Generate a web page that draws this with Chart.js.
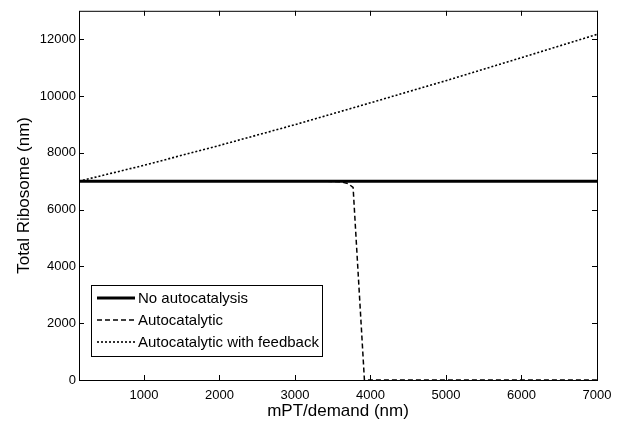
<!DOCTYPE html>
<html lang="en">
  <head>
    <meta charset="UTF-8" />
    <title>Total Ribosome vs mPT/demand</title>
    <script src="https://cdn.jsdelivr.net/npm/chart.js"></script>
    <style>
      body { margin: 0; background: #fff; }
      #wrap { width: 626px; height: 422px; }
    </style>
  </head>
  <body>
    <div id="wrap"><canvas id="myChart" width="626" height="422"></canvas></div>
    <script>
      // data
      var seriesNames = ["No autocatalysis", "Autocatalytic", "Autocatalytic with feedback"];
      var noAutoX = [140, 7000];
      var noAutoY = [7000, 7000];
      var autoX = [140, 3400, 3600, 3700, 3770, 3920, 7000];
      var autoY = [7000, 7000, 6980, 6920, 6780, 0, 0];
      var feedbackX = [140, 1000, 2000, 3000, 4000, 5000, 6000, 7000];
      var feedbackY = [7000, 7560, 8260, 8990, 9760, 10540, 11350, 12170];
      var xTicks = [1000, 2000, 3000, 4000, 5000, 6000, 7000];
      var yTicks = [0, 2000, 4000, 6000, 8000, 10000, 12000];

      function pts(xs, ys) {
        var out = [];
        for (var i = 0; i < xs.length; i++) out.push({ x: xs[i], y: ys[i] });
        return out;
      }

      var FONT = "Arial, 'Liberation Sans', sans-serif";

      // box round the plot, inward ticks and the legend, matlab style
      var framePlugin = {
        id: "frame",
        afterDraw: function (chart) {
          var ctx = chart.ctx;
          var a = chart.chartArea;
          var xs = chart.scales.x, ys = chart.scales.y;
          ctx.save();
          ctx.strokeStyle = "#000";
          ctx.lineWidth = 1;
          ctx.strokeRect(a.left + 0.5, a.top + 0.5, a.right - a.left, a.bottom - a.top);
          ctx.beginPath();
          xTicks.forEach(function (v) {
            var px = Math.round(xs.getPixelForValue(v)) + 0.5;
            ctx.moveTo(px, a.bottom); ctx.lineTo(px, a.bottom - 5);
            ctx.moveTo(px, a.top); ctx.lineTo(px, a.top + 5);
          });
          yTicks.forEach(function (v) {
            var py = Math.round(ys.getPixelForValue(v)) + 0.5;
            ctx.moveTo(a.left, py); ctx.lineTo(a.left + 5, py);
            ctx.moveTo(a.right, py); ctx.lineTo(a.right - 5, py);
          });
          ctx.stroke();

          // legend
          var lx = 91, ly = 285, lw = 231, lh = 71;
          ctx.fillStyle = "#fff";
          ctx.fillRect(lx, ly, lw, lh);
          ctx.strokeRect(lx + 0.5, ly + 0.5, lw, lh);
          ctx.font = "15px " + FONT;
          ctx.textBaseline = "middle";
          chart.data.datasets.forEach(function (ds, i) {
            var y = ly + 13 + i * 22;
            ctx.beginPath();
            ctx.lineWidth = ds.borderWidth;
            ctx.setLineDash(ds.borderDash || []);
            ctx.moveTo(97, y); ctx.lineTo(135, y);
            ctx.stroke();
            ctx.setLineDash([]);
            ctx.fillStyle = "#000";
            ctx.fillText(ds.label, 138, y + 1);
          });
          ctx.restore();
        }
      };

      function plain(v) { return String(v); }

      var ctx = document.getElementById("myChart").getContext("2d");
      new Chart(ctx, {
        type: "scatter",
        data: {
          datasets: [
            { label: seriesNames[0], data: pts(noAutoX, noAutoY), showLine: true, borderColor: "#000", borderWidth: 3, pointRadius: 0 },
            { label: seriesNames[1], data: pts(autoX, autoY), showLine: true, borderColor: "#000", borderWidth: 1.5, borderDash: [5, 3], pointRadius: 0 },
            { label: seriesNames[2], data: pts(feedbackX, feedbackY), showLine: true, borderColor: "#000", borderWidth: 1.6, borderDash: [2, 2], pointRadius: 0 }
          ]
        },
        options: {
          responsive: false,
          animation: false,
          layout: { padding: { top: 5, right: 29, left: 0, bottom: 0 } },
          plugins: { legend: { display: false }, tooltip: { enabled: false } },
          scales: {
            x: {
              type: "linear",
              min: 140,
              max: 7000,
              afterBuildTicks: function (s) { s.ticks = xTicks.map(function (v) { return { value: v }; }); },
              afterFit: function (s) { s.height = 42; },
              grid: { display: false, drawTicks: false },
              border: { display: false },
              ticks: { color: "#000", font: { size: 13, family: FONT }, padding: 8, maxRotation: 0, callback: plain },
              title: { display: true, text: "mPT/demand (nm)", color: "#000", font: { size: 17, family: FONT }, padding: { top: 0, bottom: 0 } }
            },
            y: {
              type: "linear",
              min: 0,
              max: 13000,
              afterBuildTicks: function (s) { s.ticks = yTicks.map(function (v) { return { value: v }; }); },
              afterFit: function (s) { s.width = 79; },
              grid: { display: false, drawTicks: false },
              border: { display: false },
              ticks: { color: "#000", font: { size: 13, family: FONT }, padding: 3, callback: plain },
              title: { display: true, text: "Total Ribosome (nm)", color: "#000", font: { size: 17, family: FONT }, padding: { top: 14, bottom: 0 } }
            }
          }
        },
        plugins: [framePlugin]
      });
    </script>
  </body>
</html>
